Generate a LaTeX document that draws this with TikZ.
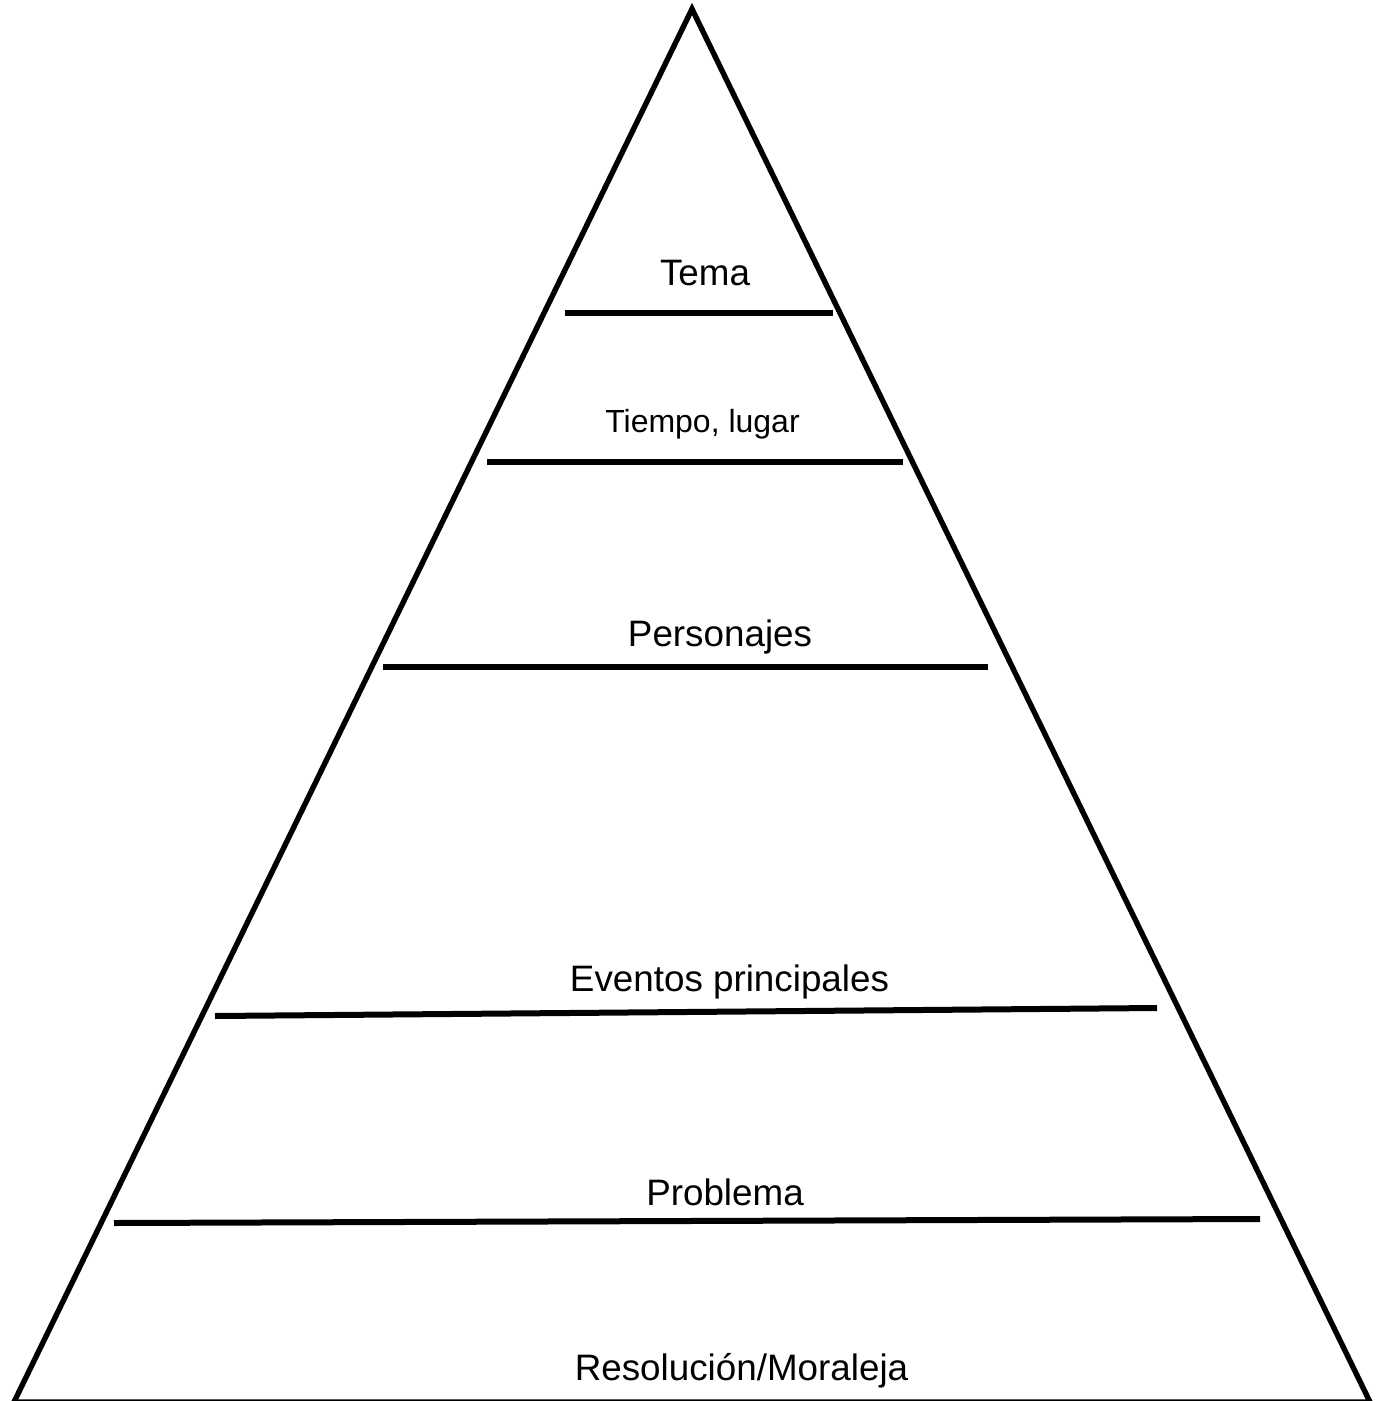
\documentclass[tikz,border=0pt]{standalone}
\usepackage{fontspec}
\setmainfont{Liberation Sans}
\usepackage{tikz}
\tikzset{
  sideline/.style   = {line width=2.7pt,line join=miter},
  levelline/.style  = {line width=3pt},
  levellabel/.style = {anchor=base,inner sep=0pt,font=\fontsize{18.4}{22}\selectfont},
  smalllabel/.style = {levellabel,font=\fontsize{16}{19}\selectfont}
}
\begin{document}
\begin{tikzpicture}[x=0.5pt,y=-0.5pt]
  \useasboundingbox (0,0) rectangle (1380,1401);
  \coordinate (apex)  at (692,9);
  \coordinate (baseL) at (14,1402);
  \coordinate (baseR) at (1370,1402);
  \draw[sideline] (baseL) -- (apex) -- (baseR) -- cycle;
  \draw[levelline] (565,313) -- (833,313);
  \draw[levelline] (487,462) -- (903,462);
  \draw[levelline] (383,667) -- (988,667);
  \draw[levelline] (215,1016) -- (1157,1008);
  \draw[levelline] (114,1223) -- (1260,1219);
  \node[levellabel] (tema)       at (705,286)    {Tema};
  \node[smalllabel] (tiempo)     at (702.5,432)  {Tiempo, lugar};
  \node[levellabel] (personajes) at (720,646)    {Personajes};
  \node[levellabel] (eventos)    at (729.5,991)  {Eventos principales};
  \node[levellabel] (problema)   at (725,1205)   {Problema};
  \node[levellabel] (resolucion) at (741.5,1380) {Resolución/Moraleja};
\end{tikzpicture}
\end{document}
